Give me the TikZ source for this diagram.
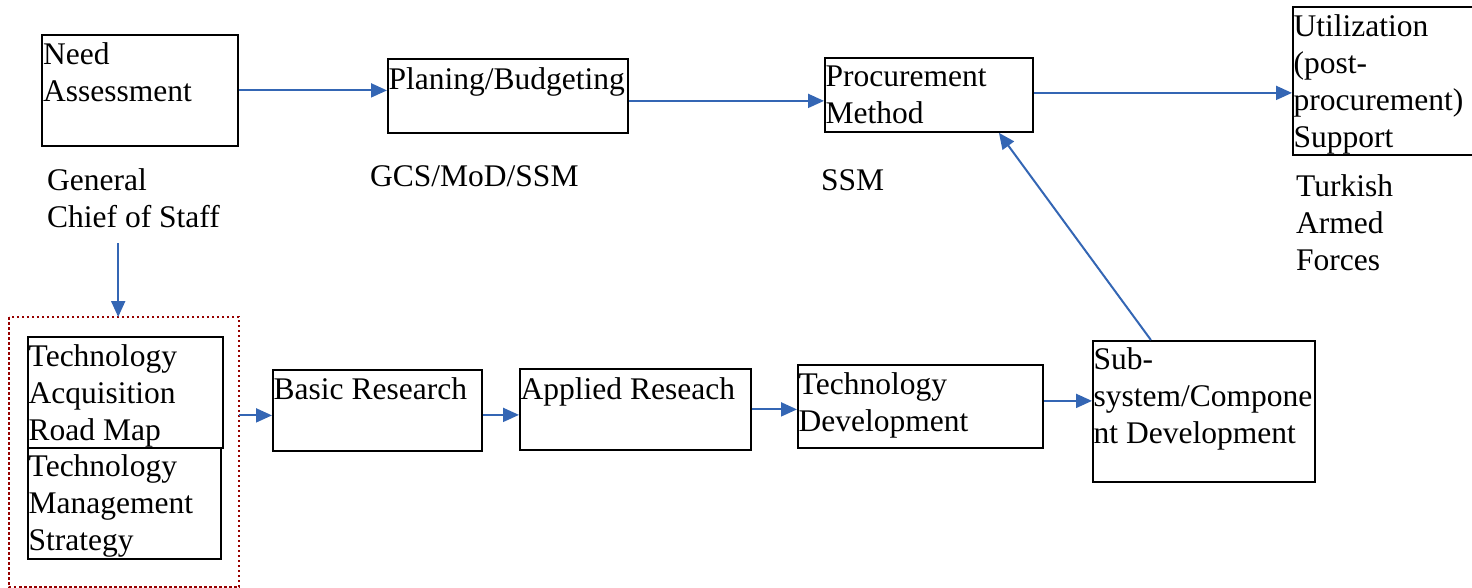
\documentclass[tikz,border=0pt]{standalone}
\usepackage{fontspec}
\setmainfont{Liberation Serif}
\usepackage{tikz}
\usetikzlibrary{arrows.meta,positioning}

\definecolor{flowblue}{RGB}{52,102,180}
\definecolor{framered}{RGB}{150,0,0}

\tikzset{
    box/.style={draw, line width=1.8pt, inner sep=0pt, anchor=north west},
    txt/.style={inner sep=0pt, anchor=north west, align=left,
        font=\fontsize{31.5pt}{37pt}\selectfont, execute at begin node=\strut},
    flow/.style={-{Triangle[length=16pt,width=14pt]}, flowblue, line width=2pt}
}

\begin{document}
\begin{tikzpicture}[x=1pt, y=-1pt]
    \useasboundingbox (0,0) rectangle (1472,588);

    % Upper row
    \node[box, minimum width=196pt, minimum height=111pt] (need) at (41,34) {};
    \node[txt, below right=8pt and 2pt of need.north west] (needtxt) {Need\\Assessment};
    \node[box, minimum width=240pt, minimum height=74pt] (plan) at (387,58) {};
    \node[txt, below right=5pt and 1.5pt of plan.north west] (plantxt) {Planing/Budgeting};
    \node[box, minimum width=208pt, minimum height=74pt] (proc) at (824,57) {};
    \node[txt, below right=9pt and 1.5pt of proc.north west] (proctxt) {Procurement\\Method};
    \node[box, minimum width=181pt, minimum height=148pt] (util) at (1292,6) {};
    \node[txt, below right=8pt and 1.5pt of util.north west] (utiltxt) {Utilization\\(post-\\procurement)\\Support};

    % Actors
    \node[txt] (gcs) at (47,168) {General\\Chief of Staff};
    \node[txt] (mod) at (370,160) {GCS/MoD/SSM};
    \node[txt] (ssm) at (821,164) {SSM};
    \node[txt] (taf) at (1296,174) {Turkish\\Armed\\Forces};

    % Lower row
    \draw[framered, line width=1.8pt, dash pattern=on 2.5pt off 2.5pt]
        (9,317) rectangle (239,587);
    \node[minimum width=230pt, minimum height=270pt, inner sep=0pt, anchor=north west] (frame) at (9,317) {};
    \node[box, minimum width=195pt, minimum height=111pt] (tarm) at (27,336) {};
    \node[txt, below right=8pt and 1.5pt of tarm.north west] (tarmtxt) {Technology\\Acquisition\\Road Map};
    \node[box, minimum width=193pt, minimum height=111pt] (tms) at (27,447) {};
    \node[txt, below right=7pt and 1.5pt of tms.north west] (tmstxt) {Technology\\Management\\Strategy};
    \node[box, minimum width=209pt, minimum height=81pt] (basic) at (272,369) {};
    \node[txt, below right=4pt and 1.5pt of basic.north west] (basictxt) {Basic Research};
    \node[box, minimum width=231pt, minimum height=81pt] (appl) at (519,368) {};
    \node[txt, below right=5pt and 1.5pt of appl.north west] (appltxt) {Applied Reseach};
    \node[box, minimum width=245pt, minimum height=83pt] (tdev) at (797,364) {};
    \node[txt, below right=8pt and 1.5pt of tdev.north west] (tdevtxt) {Technology\\Development};
    \node[box, minimum width=222pt, minimum height=141pt] (sub) at (1092,340) {};
    \node[txt, below right=7pt and 1.5pt of sub.north west] (subtxt) {Sub-\\system/Compone\\nt Development};

    % Connectors
    \draw[flow] (need.east) -- (need.east -| plan.west);
    \draw[flow] ([yshift=-5pt]plan.east) -- ([yshift=-5pt]plan.east -| proc.west);
    \draw[flow] ([yshift=2pt]proc.east) -- ([yshift=2pt]proc.east -| util.west);
    \draw[flow, shorten <=5pt] ([xshift=-6pt]frame.north |- gcs.south) -- ([xshift=-6pt]frame.north);
    \draw[flow] ([yshift=-5pt]basic.west -| frame.east) -- ([yshift=-5pt]basic.west);
    \draw[flow] ([yshift=-4.5pt]basic.east) -- ([yshift=-4.5pt]basic.east -| appl.west);
    \draw[flow] (appl.east) -- (appl.east -| tdev.west);
    \draw[flow] ([yshift=5.5pt]tdev.east) -- ([yshift=5.5pt]tdev.east -| sub.west);
    \draw[flow] ([xshift=-53pt]sub.north) -- ([xshift=70pt]proc.south);
\end{tikzpicture}
\end{document}
